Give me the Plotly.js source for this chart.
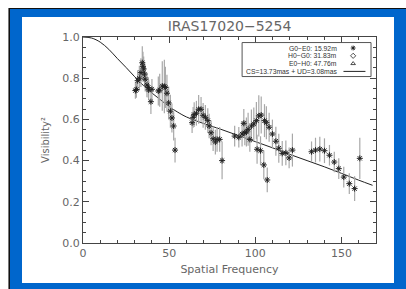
<!DOCTYPE html>
<html>
<head>
<meta charset="utf-8">
<script src="https://cdn.plot.ly/plotly-3.0.1.min.js"></script>
<style>
  html, body { margin: 0; padding: 0; background: #ffffff; }
  #wrap { position: relative; width: 406px; height: 289px; overflow: hidden; background: #ffffff; }
  #shadow { position: absolute; left: 8px; top: 8px; width: 398px; height: 281px; background: #777; }
  #frame { position: absolute; left: 9px; top: 8px; width: 397px; height: 281px; background: #111; }
  #blue { position: absolute; left: 10px; top: 9px; width: 396px; height: 280px; background: #0066CC; }
  #inner { position: absolute; left: 22px; top: 17px; width: 372px; height: 266px; background: #ffffff; }
  #chart { position: absolute; left: 0; top: 0; width: 406px; height: 289px; }
</style>
</head>
<body>
<div id="wrap">
  <div id="shadow"></div>
  <div id="frame"></div>
  <div id="blue"></div>
  <div id="inner"></div>
  <div id="chart"></div>
</div>
<script>
const freq = [30.4, 31.0, 31.7, 32.7, 33.6, 34.4, 34.8, 35.2, 35.7, 36.1, 37.1, 37.9, 38.1, 39.4, 40.0,
  43.7, 44.5, 46.0, 47.2, 47.8, 48.7, 49.7, 50.7, 51.6, 52.6, 53.4,
  63.3, 63.9, 64.5, 65.8, 67.1, 68.5, 69.7, 71.0, 72.4, 73.2, 74.3, 75.5, 76.8, 77.8, 79.3, 80.7,
  88.0, 90.4, 92.3, 93.3, 93.9, 94.8, 95.8, 96.8, 97.7, 99.1, 100.6, 101.0, 102.0, 103.0, 103.4,
  104.9, 105.3, 106.4, 106.9, 108.0, 109.9, 111.9, 113.6, 115.6, 117.7, 119.6, 121.5,
  132.6, 134.9, 137.4, 140.1, 143.0, 145.8, 148.4, 151.3, 154.5, 157.6, 160.6];
const vis2 = [0.740, 0.745, 0.788, 0.800, 0.827, 0.875, 0.858, 0.845, 0.820, 0.795, 0.767, 0.755, 0.743, 0.686, 0.746,
  0.738, 0.742, 0.762, 0.760, 0.755, 0.727, 0.680, 0.640, 0.607, 0.568, 0.451,
  0.584, 0.610, 0.623, 0.630, 0.649, 0.649, 0.620, 0.610, 0.594, 0.568, 0.535, 0.506, 0.490, 0.503, 0.503, 0.400,
  0.519, 0.513, 0.529, 0.581, 0.535, 0.539, 0.552, 0.503, 0.568, 0.578, 0.594, 0.455, 0.617, 0.448, 0.621,
  0.379, 0.594, 0.584, 0.306, 0.562, 0.529, 0.494, 0.460, 0.435, 0.438, 0.413, 0.451,
  0.443, 0.451, 0.456, 0.448, 0.426, 0.393, 0.361, 0.320, 0.288, 0.264, 0.411];
const vis2err = [0.04, 0.04, 0.05, 0.06, 0.07, 0.08, 0.07, 0.06, 0.06, 0.06, 0.06, 0.05, 0.05, 0.06, 0.05,
  0.07, 0.08, 0.12, 0.13, 0.10, 0.09, 0.08, 0.08, 0.07, 0.07, 0.06,
  0.05, 0.05, 0.06, 0.06, 0.07, 0.06, 0.06, 0.06, 0.06, 0.06, 0.06, 0.06, 0.06, 0.06, 0.06, 0.09,
  0.05, 0.05, 0.06, 0.07, 0.06, 0.07, 0.08, 0.06, 0.08, 0.08, 0.09, 0.07, 0.10, 0.07, 0.09,
  0.07, 0.08, 0.08, 0.06, 0.07, 0.07, 0.07, 0.07, 0.06, 0.06, 0.05, 0.08,
  0.05, 0.06, 0.06, 0.06, 0.05, 0.05, 0.05, 0.05, 0.05, 0.06, 0.10];

// Model curve (CS + UD)
const modelFreq = [0, 5, 10, 15, 20, 25, 30, 35, 40, 45, 50, 55, 60, 70, 80, 90, 100, 110, 120, 130, 140, 150, 160, 168];
const modelVis2 = [1.0, 0.995, 0.975, 0.94, 0.895, 0.852, 0.807, 0.765, 0.728, 0.695, 0.662, 0.635, 0.612, 0.58, 0.552,
  0.522, 0.492, 0.462, 0.43, 0.40, 0.37, 0.338, 0.305, 0.28];

const xTicks = [0, 50, 100, 150];
const yTicks = [0.0, 0.2, 0.4, 0.6, 0.8, 1.0];
const legendLabels = ["G0\u2212E0: 15.92m", "H0\u2212G0: 31.83m", "E0\u2212H0: 47.76m", "CS=13.73mas + UD=3.08mas"];

const axisColor = '#444';
const textColor = '#666';
const fontFam = 'DejaVu Sans, Arial, sans-serif';
const legendFont = 'Liberation Sans, Arial, sans-serif';

const legendY = [0.9466, 0.9087, 0.8709, 0.8330];

const traces = [
  {
    x: modelFreq, y: modelVis2, type: 'scatter', mode: 'lines',
    line: { color: '#222', width: 1, shape: 'spline', smoothing: 1 },
    hoverinfo: 'skip'
  },
  {
    x: freq, y: vis2, type: 'scatter', mode: 'markers',
    marker: { symbol: 'asterisk-open', size: 5, color: '#222', line: { color: '#222', width: 1 } },
    error_y: { type: 'data', array: vis2err, visible: true, color: '#a8a8a8', thickness: 1.2, width: 0 }
  },
  // legend glyphs, on an overlay axis in [0,1]
  {
    x: [0.922], y: [legendY[0]], xaxis: 'x2', yaxis: 'y2', type: 'scatter', mode: 'markers',
    marker: { symbol: 'asterisk-open', size: 4, color: '#222', line: { color: '#222', width: 1 } }
  },
  {
    x: [0.922], y: [legendY[1]], xaxis: 'x2', yaxis: 'y2', type: 'scatter', mode: 'markers',
    marker: { symbol: 'diamond-open', size: 4, color: '#222', line: { color: '#222', width: 0.8 } }
  },
  {
    x: [0.922], y: [legendY[2]], xaxis: 'x2', yaxis: 'y2', type: 'scatter', mode: 'markers',
    marker: { symbol: 'triangle-up-open', size: 4, color: '#222', line: { color: '#222', width: 0.8 } }
  },
  {
    x: [0.889, 0.964], y: [legendY[3], legendY[3]], xaxis: 'x2', yaxis: 'y2', type: 'scatter', mode: 'lines',
    line: { color: '#222', width: 1 }
  }
];

const annotations = legendLabels.map((t, i) => ({
  text: t, xref: 'paper', yref: 'paper', x: 0.871, y: legendY[i],
  xanchor: 'right', yanchor: 'middle', showarrow: false, borderpad: 0,
  font: { family: legendFont, size: 6.8, color: '#333' }
}));

const layout = {
  width: 406, height: 289,
  margin: { l: 83, r: 30, t: 37, b: 46, pad: 0 },
  paper_bgcolor: 'rgba(0,0,0,0)',
  plot_bgcolor: 'rgba(0,0,0,0)',
  showlegend: false,
  title: {
    text: 'IRAS17020\u22125254',
    x: 0.5, xref: 'paper', y: 0.91, yref: 'container', yanchor: 'middle',
    font: { family: fontFam, size: 14, color: textColor }
  },
  xaxis: {
    range: [0, 170], tickvals: xTicks, ticktext: xTicks.map(String),
    showline: true, linecolor: axisColor, linewidth: 1, mirror: 'ticks',
    ticks: 'inside', ticklen: 6, tickcolor: axisColor, tickwidth: 1,
    minor: { dtick: 10, ticks: 'inside', ticklen: 3, tickcolor: axisColor, showgrid: false },
    showgrid: false, zeroline: false,
    tickfont: { family: fontFam, size: 11, color: textColor },
    title: { text: 'Spatial Frequency', standoff: 6, font: { family: fontFam, size: 11, color: textColor } }
  },
  yaxis: {
    range: [0, 1], tickvals: yTicks, ticktext: yTicks.map(v => v.toFixed(1)),
    showline: true, linecolor: axisColor, linewidth: 1, mirror: 'ticks',
    ticks: 'inside', ticklen: 6, tickcolor: axisColor, tickwidth: 1,
    minor: { dtick: 0.05, ticks: 'inside', ticklen: 3, tickcolor: axisColor, showgrid: false },
    showgrid: false, zeroline: false,
    tickfont: { family: fontFam, size: 11, color: textColor },
    title: { text: 'Visibility\u00b2', standoff: 10, font: { family: fontFam, size: 10, color: textColor } }
  },
  xaxis2: { overlaying: 'x', range: [0, 1], visible: false, fixedrange: true },
  yaxis2: { overlaying: 'y', range: [0, 1], visible: false, fixedrange: true },
  shapes: [
    { type: 'rect', xref: 'paper', yref: 'paper', x0: 0.543, x1: 0.983, y0: 0.808, y1: 0.973,
      line: { color: '#555', width: 1 }, fillcolor: 'rgba(255,255,255,0)' }
  ],
  annotations: annotations
};

Plotly.newPlot('chart', traces, layout, { staticPlot: true, displayModeBar: false });
</script>
</body>
</html>
